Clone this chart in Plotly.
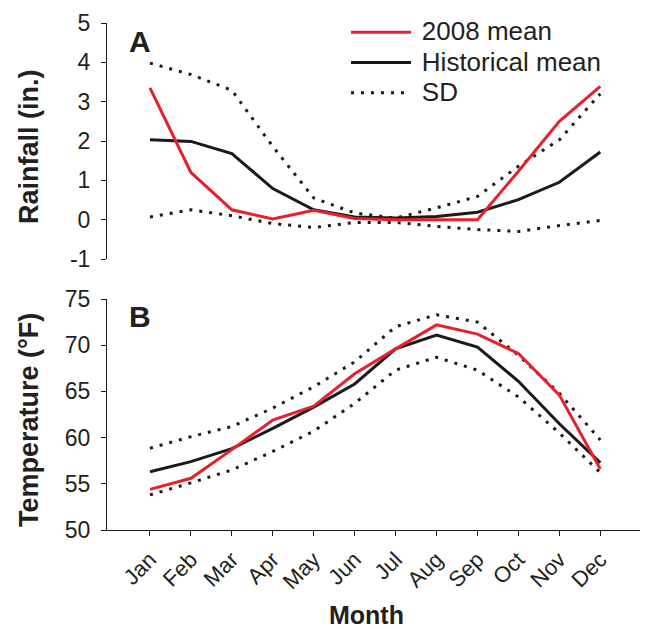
import plotly.graph_objects as go
from plotly.subplots import make_subplots

months = ["Jan", "Feb", "Mar", "Apr", "May", "Jun", "Jul", "Aug", "Sep", "Oct", "Nov", "Dec"]

rain_ticks = [-1, 0, 1, 2, 3, 4, 5]
rain_ticktext = ["-1", "0", "1", "2", "3", "4", "5"]
temp_ticks = [50, 55, 60, 65, 70, 75]

rain_2008 = [3.35, 1.2, 0.25, 0.02, 0.24, 0.03, 0.0, 0.0, 0.0, 1.23, 2.5, 3.39]
rain_hist = [2.03, 1.99, 1.68, 0.79, 0.25, 0.07, 0.04, 0.08, 0.19, 0.51, 0.95, 1.72]
rain_sd_hi = [3.98, 3.69, 3.29, 1.86, 0.55, 0.17, 0.04, 0.3, 0.59, 1.36, 2.03, 3.2]
rain_sd_lo = [0.07, 0.25, 0.1, -0.1, -0.2, -0.07, -0.07, -0.17, -0.25, -0.3, -0.15, -0.02]

temp_2008 = [54.4, 55.6, 58.7, 61.9, 63.4, 66.9, 69.6, 72.2, 71.2, 69.1, 64.6, 56.6]
temp_hist = [56.3, 57.4, 58.8, 61.0, 63.3, 65.8, 69.6, 71.1, 69.8, 66.1, 61.5, 57.3]
temp_sd_hi = [58.85, 60.1, 61.2, 63.2, 65.5, 68.2, 72.0, 73.3, 72.5, 68.9, 64.8, 59.75]
temp_sd_lo = [53.8, 55.1, 56.5, 58.5, 60.7, 63.7, 67.3, 68.7, 67.3, 64.4, 60.5, 56.2]

FONT = "Liberation Sans, Arial, sans-serif"
RED = "#e8202a"
BLACK = "#1a1a1a"
TXT = "#231f20"
DOT = "3px,7px"
xs = list(range(len(months)))

fig = make_subplots(rows=2, cols=1, shared_xaxes=False, vertical_spacing=0.08)

def add_panel(row, m2008, mhist, hi, lo):
    for arr in (hi, lo):
        fig.add_trace(go.Scatter(x=xs, y=arr, mode="lines", name="SD", legendgroup="sd",
                                 showlegend=False,
                                 line=dict(color=BLACK, width=3, dash=DOT)), row=row, col=1)
    fig.add_trace(go.Scatter(x=xs, y=mhist, mode="lines", name="Historical mean",
                             showlegend=False, line=dict(color=BLACK, width=3)), row=row, col=1)
    fig.add_trace(go.Scatter(x=xs, y=m2008, mode="lines", name="2008 mean",
                             showlegend=False, line=dict(color=RED, width=3)), row=row, col=1)

add_panel(1, rain_2008, rain_hist, rain_sd_hi, rain_sd_lo)
add_panel(2, temp_2008, temp_hist, temp_sd_hi, temp_sd_lo)

# legend entries (ordered)
for nm, col, dash in [("2008 mean", RED, "solid"), ("Historical mean", BLACK, "solid"), ("SD", BLACK, DOT)]:
    fig.add_trace(go.Scatter(x=[None], y=[None], mode="lines",
                             name='\u00a0<span style="font-size:26px">%s</span>' % nm,
                             line=dict(color=col, width=3, dash=dash)), row=1, col=1)

W, H = 645, 629
ml, mr, mt, mb = 107, 5, 23, 99
ph = H - mt - mb
pw = W - ml - mr

def px(xp):
    return (xp - ml) / pw

def py(yp):
    return (H - mb - yp) / ph

fig.update_layout(
    width=W, height=H,
    margin=dict(l=ml, r=mr, t=mt, b=mb),
    plot_bgcolor="white", paper_bgcolor="white",
    font=dict(family=FONT, color=TXT, size=23),
    legend=dict(x=px(346), y=py(12), xanchor="left", yanchor="top",
                font=dict(size=21, family=FONT, color=TXT), itemwidth=60,
                bgcolor="rgba(0,0,0,0)", tracegroupgap=0),
)

xr = [-1.05, 11.97]
fig.update_xaxes(range=xr, showgrid=False, zeroline=False, tickmode="array", tickvals=xs)
fig.update_xaxes(row=1, col=1, showline=False, ticks="", showticklabels=False)
fig.update_xaxes(row=2, col=1, showline=True, linecolor=BLACK, linewidth=1,
                 ticks="outside", ticklen=5, tickcolor=BLACK, ticktext=months,
                 tickangle=-45, tickfont=dict(size=22), ticklabelstandoff=2)
fig.update_yaxes(showgrid=False, zeroline=False, showline=True, linecolor=BLACK, linewidth=1,
                 ticks="outside", ticklen=5, tickcolor=BLACK, tickfont=dict(size=23),
                 ticklabelstandoff=6)
fig.update_yaxes(row=1, col=1, range=[-1, 5], tickmode="array", tickvals=rain_ticks,
                 ticktext=rain_ticktext, domain=[py(259), 1])
fig.update_yaxes(row=2, col=1, range=[50, 75], tickmode="array", tickvals=temp_ticks,
                 domain=[0, py(299)])

fig.add_annotation(text="<b>A</b>", x=px(140), y=py(42), xref="paper", yref="paper",
                   showarrow=False, font=dict(size=30), xanchor="center", yanchor="middle")
fig.add_annotation(text="<b>B</b>", x=px(140), y=py(316), xref="paper", yref="paper",
                   showarrow=False, font=dict(size=30), xanchor="center", yanchor="middle")
fig.add_annotation(text="<b>Rainfall (in.)</b>", x=px(29), y=py(147), xref="paper", yref="paper",
                   showarrow=False, textangle=-90, font=dict(size=27), xanchor="center", yanchor="middle")
fig.add_annotation(text="<b>Temperature (°F)</b>", x=px(29), y=py(420), xref="paper", yref="paper",
                   showarrow=False, textangle=-90, font=dict(size=27), xanchor="center", yanchor="middle")
fig.add_annotation(text="<b>Month</b>", x=px(366), y=py(615), xref="paper", yref="paper",
                   showarrow=False, font=dict(size=25), xanchor="center", yanchor="middle")

fig.write_html("out.html")
